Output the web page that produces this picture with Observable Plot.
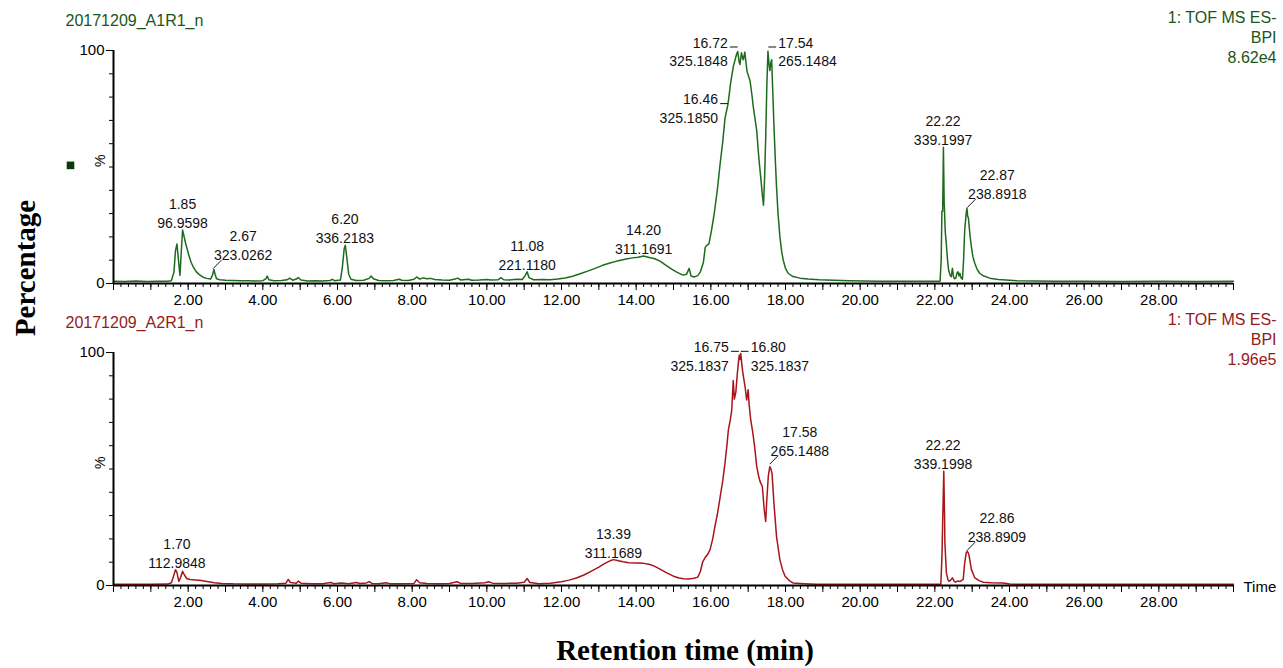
<!DOCTYPE html>
<html>
<head>
<meta charset="utf-8">
<script src="https://cdn.jsdelivr.net/npm/d3@7"></script>
<script src="https://cdn.jsdelivr.net/npm/@observablehq/plot@0.6"></script>
<style>
  html, body { margin: 0; padding: 0; background: #fff; }
  #wrap { position: relative; width: 1283px; height: 668px; overflow: hidden; background: #fff; }
  #top, #bottom { position: absolute; left: 0; }
  #top { top: 0; }
  #bottom { top: 302px; }
  .big { position: absolute; font-family: "Liberation Serif", "Times New Roman", serif; font-weight: bold; font-size: 29px; line-height: 1; color: #000; white-space: nowrap; }
  #ylab { left: 25px; top: 268px; transform: translate(-50%, -50%) rotate(-90deg); }
  #xlab { left: 685px; top: 650px; transform: translate(-50%, -50%); }
</style>
</head>
<body>
<div id="wrap">
  <div id="top"></div>
  <div id="bottom"></div>
  <div id="ylab" class="big">Percentage</div>
  <div id="xlab" class="big">Retention time (min)</div>
</div>
<script>
// ---------------- DATA ----------------
// Panel A: 20171209_A1R1_n (retention time in min, relative intensity %)
const timeA = [0.0,0.3,0.6,0.9,1.2,1.45,1.55,1.62,1.66,1.70,1.74,1.78,1.81,1.85,1.88,1.92,1.96,2.02,2.08,2.14,2.22,2.30,2.40,2.50,2.60,2.65,2.69,2.72,2.76,2.85,3.0,3.2,3.4,3.6,3.8,4.0,4.08,4.12,4.16,4.3,4.5,4.65,4.72,4.8,4.9,4.95,5.02,5.2,5.4,5.6,5.8,5.86,5.92,6.08,6.13,6.18,6.21,6.25,6.30,6.36,6.5,6.7,6.85,6.9,6.96,7.1,7.3,7.5,7.65,7.72,7.9,8.05,8.12,8.2,8.3,8.4,8.5,8.6,8.8,9.0,9.15,9.22,9.3,9.5,9.6,9.8,10.0,10.1,10.3,10.38,10.45,10.6,10.8,10.95,11.03,11.08,11.13,11.25,11.5,11.7,11.9,12.1,12.3,12.5,12.7,12.9,13.1,13.3,13.5,13.7,13.9,14.05,14.2,14.35,14.5,14.65,14.8,14.95,15.1,15.25,15.35,15.42,15.47,15.55,15.65,15.72,15.8,15.85,15.9,15.95,16.02,16.1,16.18,16.25,16.32,16.38,16.46,16.53,16.6,16.65,16.69,16.72,16.76,16.78,16.82,16.85,16.87,16.91,16.94,16.97,17.01,17.05,17.1,17.14,17.19,17.23,17.27,17.3,17.34,17.38,17.41,17.44,17.47,17.5,17.53,17.56,17.58,17.61,17.63,17.66,17.69,17.73,17.76,17.8,17.85,17.9,17.94,18.0,18.07,18.2,18.39,18.6,18.9,19.3,19.7,20.1,20.5,21.0,21.5,21.9,22.14,22.17,22.19,22.21,22.23,22.25,22.28,22.3,22.34,22.37,22.41,22.44,22.47,22.5,22.53,22.56,22.6,22.62,22.65,22.67,22.7,22.74,22.77,22.8,22.84,22.86,22.88,22.9,22.94,22.98,23.02,23.07,23.13,23.2,23.3,23.47,23.7,24.2,24.7,25.2,26.0,27.0,28.0,29.0,30.0];
const intensityA = [1.0,0.9,1.1,0.9,1.0,1.0,1.2,5,14,17,10,3.5,12,23,21,18,15.5,12,9,7,5,3.8,2.7,2.2,1.9,3.5,6,4,2.0,1.6,1.4,1.3,1.2,1.2,1.1,1.2,2,3.2,1.6,1.2,1.3,1.6,2.3,1.4,1.9,2.6,1.5,1.1,1.2,1.1,1.3,1.8,1.2,1.5,7,15,16.4,11,4,1.8,1.3,1.4,2.2,3.2,2.0,1.3,1.2,1.3,1.8,1.4,1.3,1.8,2.8,1.9,2.4,2.0,2.2,1.7,1.5,1.4,1.9,2.3,1.5,1.8,1.4,1.5,1.7,1.5,1.6,2.5,1.6,1.5,1.8,1.7,3.5,5,2.5,1.6,1.7,1.6,1.9,2.4,3.1,4.2,5.3,6.5,7.8,8.8,9.7,10.4,11.0,11.3,11.8,11.2,10.6,9.5,7.8,6.2,4.8,3.6,4,6.5,3.2,2.8,3.4,5,9,15.5,16.5,17,23,31,41,51.5,61,71,77,86,93,96,98.5,99.6,95,94,99,97,96,99.3,95,91,89,87,81,75.5,70,65.5,57,51.5,45,38,33.6,45,63,85,99.7,94,91.4,95,96,82,68,52,41.4,30,20,13.5,10,6.5,4.4,3.0,2.3,1.9,1.6,1.4,1.2,1.1,1.0,1.0,1.0,1.0,1.0,10,31,31,58.5,35,22,18.6,10,5.7,3.5,2.9,6.5,3.0,2.0,2.3,4.8,5.0,3.2,4.4,2.5,1.8,10,23,30,32.3,29,28,21,15.7,11.5,8.7,6.2,4.4,3.3,2.3,1.7,1.2,1.1,1.0,1.0,0.9,1.0,0.9,1.0];

// Panel B: 20171209_A2R1_n
const timeB = [0.0,0.5,1.0,1.45,1.55,1.6,1.66,1.70,1.75,1.8,1.85,1.9,1.96,2.05,2.2,2.35,2.5,2.7,2.9,3.2,3.6,4.0,4.4,4.62,4.68,4.74,4.9,4.95,5.02,5.3,5.6,5.82,5.9,6.1,6.3,6.5,6.6,6.78,6.85,6.92,7.1,7.3,7.4,7.7,8.05,8.12,8.2,8.4,8.7,9.0,9.2,9.3,9.6,9.95,10.05,10.15,10.5,10.8,11.0,11.08,11.15,11.4,11.7,12.0,12.2,12.4,12.6,12.8,13.0,13.15,13.3,13.39,13.5,13.65,13.8,14.0,14.2,14.37,14.5,14.65,14.82,15.0,15.15,15.27,15.4,15.55,15.65,15.72,15.78,15.84,15.92,15.98,16.05,16.11,16.18,16.25,16.32,16.38,16.43,16.47,16.52,16.56,16.6,16.63,16.67,16.71,16.74,16.76,16.78,16.80,16.83,16.86,16.9,16.92,16.96,17.0,17.03,17.07,17.12,17.17,17.23,17.28,17.32,17.38,17.43,17.47,17.5,17.54,17.58,17.61,17.64,17.69,17.76,17.85,17.92,17.99,18.1,18.2,18.5,18.84,19.5,20.5,21.5,22.16,22.19,22.21,22.24,22.26,22.27,22.31,22.35,22.38,22.43,22.47,22.52,22.56,22.62,22.67,22.72,22.76,22.8,22.84,22.87,22.9,22.92,22.98,23.07,23.2,23.3,23.5,23.83,24.0,25.0,26.0,27.0,28.0,29.0,30.0];
const intensityB = [0.5,0.5,0.5,0.6,1.2,3.5,6.8,5.5,1.8,3.5,6.1,4.5,3.0,2.6,2.4,2.1,1.7,1.2,0.9,0.7,0.6,0.6,0.7,1.0,2.6,1.3,1.0,1.9,1.0,0.7,0.8,1.3,0.8,1.1,0.8,1.3,0.9,1.1,1.7,0.9,0.8,1.2,0.8,0.8,0.9,2.5,1.2,0.9,0.8,0.9,1.6,0.9,0.9,1.2,1.6,1.0,0.9,1.0,1.4,3.0,1.3,0.8,1.0,1.6,2.3,3.2,4.5,6.2,7.9,9.4,10.6,11.1,10.7,10.2,9.8,9.7,9.5,9.0,8.2,6.9,5.4,4.0,3.2,2.9,2.8,3.1,3.6,6,10,11.8,13.5,15.4,20,25.4,31,38,45,52.6,60,66.8,71,75.3,88,80,83,91,96,98.8,97,99.6,95,91,87,85,79.6,84,77,71,66,60,51,47,44.6,42.5,32.5,27.5,37,47,51,50,48,35.4,21,11,6.8,4.0,2.1,1.1,0.8,0.5,0.5,0.5,0.5,0.5,12,27.5,49,30,18,5.4,2.5,1.8,2.4,3.3,1.8,1.4,2.0,1.7,2.2,2.6,9.7,14,14.7,13.8,12.5,6.8,3.3,2.0,1.4,1.2,1.1,0.6,0.5,0.5,0.5,0.5,0.5,0.5];

// Peak annotations: retention time, m/z, intensity at the label anchor, label style
const peakTimeA = [1.85, 2.67, 6.20, 11.08, 14.20, 16.72, 16.46, 17.54, 22.22, 22.87];
const peakMzA   = ["96.9598","323.0262","336.2183","221.1180","311.1691","325.1848","325.1850","265.1484","339.1997","238.8918"];
const peakHA    = [23, 6.1, 16.4, 5, 11.8, 101.5, 77.2, 101.5, 58.5, 32.3];
const peakKindA = ["c","d","c","c","c","l","l","r","c","d"];

const peakTimeB = [1.70, 13.39, 16.75, 16.80, 17.58, 22.22, 22.86];
const peakMzB   = ["112.9848","311.1689","325.1837","325.1837","265.1488","339.1998","238.8909"];
const peakHB    = [6.8, 11.1, 100.5, 100.5, 51.8, 49, 14.7];
const peakKindB = ["c","c","l","r","d","c","d"];

// Axis ticks and header texts
const xLabelTicks = [2,4,6,8,10,12,14,16,18,20,22,24,26,28];
const yLabelTicks = [0, 100];
const titleA = "20171209_A1R1_n";
const titleB = "20171209_A2R1_n";
const headerA = "1: TOF MS ES-\nBPI\n8.62e4";
const headerB = "1: TOF MS ES-\nBPI\n1.96e5";

// ---------------- DRAWING ----------------
const GREEN = "#1d6b1d", GREEN_TXT = "#1a561a";
const RED = "#a8151b", RED_TXT = "#951a1a";
const FONT = "Liberation Sans, Arial, sans-serif";

function zip(ts, vs) { return ts.map((t, i) => ({t, v: vs[i]})); }
function anns(ts, mz, h, k) { return ts.map((t, i) => ({t, mz: mz[i], h: h[i], kind: k[i], label: t.toFixed(2) + "\n" + mz[i]})); }

function panel(opts) {
  const {series, color, txtColor, title, header, ann, showTime, showSquare} = opts;
  const c = ann.filter(d => d.kind === "c");
  const dd = ann.filter(d => d.kind === "d");
  const l = ann.filter(d => d.kind === "l");
  const r = ann.filter(d => d.kind === "r");
  const tickW = 0.21, leadDx = 0.22, leadDy = 3.9;
  const minor = d3.range(0, 151).map(i => i * 0.2);
  const major = d3.range(0, 31);
  const marks = [
    Plot.axisX(minor, {tickSize: 4, tickFormat: () => "", label: null, stroke: "#000"}),
    Plot.axisX(major, {tickSize: 7, tickFormat: () => "", label: null, stroke: "#000"}),
    Plot.axisX(xLabelTicks, {tickSize: 0, tickPadding: 11, tickFormat: d => d.toFixed(2), fontSize: 15, label: null, fill: "#000"}),
    Plot.axisY(d3.range(0, 101, 10), {tickSize: 4, tickFormat: () => "", label: null, stroke: "#000"}),
    Plot.axisY(yLabelTicks, {tickSize: 7, tickPadding: 2, fontSize: 15, label: null, fill: "#000"}),
    Plot.line(series, {x: "t", y: "v", stroke: color, strokeWidth: 1.5, curve: "linear"}),
    Plot.ruleY([0], {stroke: "#000", strokeWidth: 2}),
    Plot.ruleX([0], {stroke: "#000", strokeWidth: 2}),
    // centred labels
    Plot.text(c, {x: "t", y: "h", text: "label", lineAnchor: "bottom", dy: -2, lineHeight: 1.35, fontSize: 14, fill: "#111"}),
    // diagonal leader labels
    Plot.link(dd, {x1: "t", y1: d => d.h + 0.3, x2: d => d.t + leadDx, y2: d => d.h + leadDy, stroke: "#111", strokeWidth: 1}),
    Plot.text(dd, {x: "t", y: "h", text: "label", lineAnchor: "bottom", dx: 30, dy: -9, lineHeight: 1.35, fontSize: 14, fill: "#111"}),
    // left-side tick labels
    Plot.link(l, {x1: d => d.t - tickW, x2: "t", y1: "h", y2: "h", stroke: "#111", strokeWidth: 1}),
    Plot.text(l, {x: "t", y: "h", text: "label", textAnchor: "end", lineAnchor: "middle", dx: -10, dy: 4, lineHeight: 1.35, fontSize: 14, fill: "#111"}),
    // right-side tick labels
    Plot.link(r, {x1: "t", x2: d => d.t + tickW, y1: "h", y2: "h", stroke: "#111", strokeWidth: 1}),
    Plot.text(r, {x: "t", y: "h", text: "label", textAnchor: "start", lineAnchor: "middle", dx: 10, dy: 4, lineHeight: 1.35, fontSize: 14, fill: "#111"}),
    // "%" label
    Plot.text(["%"], {frameAnchor: "left", y: 50, text: d => d, dx: -13, rotate: -90, fontSize: 14, fill: "#000"}),
    // titles
    Plot.text([title], {frameAnchor: "top-left", text: d => d, textAnchor: "start", lineAnchor: "middle", dx: -48, dy: -30, fontSize: 16, fill: txtColor}),
    Plot.text([header], {frameAnchor: "top-right", text: d => d, textAnchor: "end", lineAnchor: "top", dx: 43, dy: -41, lineHeight: 1.23, fontSize: 16, fill: txtColor})
  ];
  if (showTime) marks.push(Plot.text(["Time"], {frameAnchor: "bottom-right", text: d => d, textAnchor: "start", lineAnchor: "middle", dx: 10, dy: 2, fontSize: 15, fill: "#000"}));
  if (showSquare) marks.push(Plot.dot([0], {frameAnchor: "left", y: 50.7, dx: -43, symbol: "square", r: 4.3, fill: "#0a3a0a", stroke: "none"}));
  return Plot.plot({
    width: 1283, height: 313,
    marginTop: 50, marginBottom: 30, marginLeft: 113, marginRight: 50,
    x: {domain: [0, 30], label: null},
    y: {domain: [0, 100], label: null},
    style: {fontFamily: FONT, fontSize: "14px", background: "transparent", overflow: "visible", color: "#000"},
    marks
  });
}

document.getElementById("top").append(panel({
  series: zip(timeA, intensityA), color: GREEN, txtColor: GREEN_TXT, title: titleA, header: headerA,
  ann: anns(peakTimeA, peakMzA, peakHA, peakKindA), showTime: false, showSquare: true
}));
document.getElementById("bottom").append(panel({
  series: zip(timeB, intensityB), color: RED, txtColor: RED_TXT, title: titleB, header: headerB,
  ann: anns(peakTimeB, peakMzB, peakHB, peakKindB), showTime: true, showSquare: false
}));
</script>
</body>
</html>
